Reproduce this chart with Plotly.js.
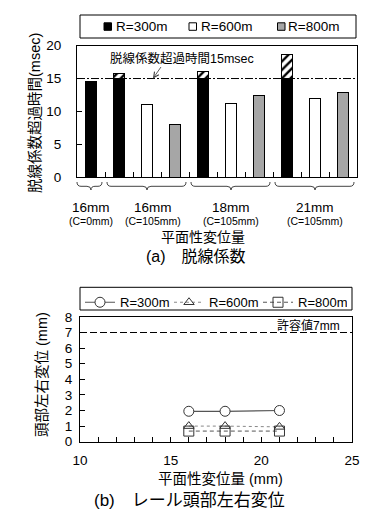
<!DOCTYPE html>
<html>
<head>
<meta charset="utf-8">
<script src="https://cdn.plot.ly/plotly-3.0.1.min.js"></script>
<style>html,body{margin:0;padding:0;background:#fff;}#chart{width:389px;height:522px;}</style>
</head>
<body>
<div id="chart"></div>
<script>
// ---- data ----
const groupGap = ['16mm', '16mm', '18mm', '21mm'];
const groupCant = ['(C=0mm)', '(C=105mm)', '(C=105mm)', '(C=105mm)'];
const seriesNames = ['R=300m', 'R=600m', 'R=800m'];
const r300 = [14.5, 15.7, 16.0, 18.6];
const r600 = [null, 11.1, 11.2, 11.9];
const r800 = [null, 8.0, 12.4, 12.9];
const limitTime = 15;
const limitTimeLabel = '脱線係数超過時間15msec';

const dispX = [16, 18, 21];
const disp300 = [1.95, 1.95, 2.0];
const disp600 = [1.0, 1.0, 0.95];
const disp800 = [0.68, 0.68, 0.68];
const limitDisp = 7;
const limitDispLabel = '許容値7mm';

const titleTopX = '平面性変位量';
const titleTopY = '脱線係数超過時間(msec)';
const titleBotX = '平面性変位量 (mm)';
const titleBotY = '頭部左右変位 (mm)';
const captionA = '(a)　脱線係数';
const captionB = '(b)　レール頭部左右変位';

// ---- layout helpers (pixels -> paper) ----
const W = 389, H = 522;
const px = x => x / W;
const py = y => 1 - y / H;
const A = {x0: 77, x1: 357, y0: 45.7, y1: 177};
const B = {x0: 80, x1: 352, y0: 316.9, y1: 441.7};
const FONT = 'Liberation Sans, Arial, Noto Sans CJK JP, sans-serif';

// categories built from data
const series = [r300, r600, r800];
const cats = [], catGroup = [];
groupGap.forEach((g, gi) => {
  series.forEach((s, si) => {
    if (s[gi] != null) { cats.push(gi + '-' + si); catGroup.push(gi); }
  });
});
const nCat = cats.length;
const catPx = i => A.x0 + (i + 0.5) / nCat * (A.x1 - A.x0);

function seriesXY(si) {
  const xs = [], ys = [];
  series[si].forEach((v, gi) => { if (v != null) { xs.push(gi + '-' + si); ys.push(v); } });
  return {xs, ys};
}
const s0 = seriesXY(0), s1 = seriesXY(1), s2 = seriesXY(2);
const barLine = {color: '#000', width: 1};

const traces = [
  {type: 'bar', name: seriesNames[0], x: s0.xs, y: s0.ys.map(v => Math.min(v, limitTime)),
   marker: {color: '#000', line: barLine}, showlegend: false, xaxis: 'x', yaxis: 'y', hoverinfo: 'skip'},
  {type: 'bar', name: seriesNames[0] + ' (>15)', x: s0.xs, y: s0.ys.map(v => v > limitTime ? v - limitTime : null),
   marker: {color: '#fff', line: barLine, pattern: {shape: '/', bgcolor: '#fff', fgcolor: '#000', size: 6, solidity: 0.4}},
   showlegend: false, xaxis: 'x', yaxis: 'y', hoverinfo: 'skip'},
  {type: 'bar', name: seriesNames[1], x: s1.xs, y: s1.ys,
   marker: {color: '#fff', line: barLine}, showlegend: false, xaxis: 'x', yaxis: 'y'},
  {type: 'bar', name: seriesNames[2], x: s2.xs, y: s2.ys,
   marker: {color: '#a6a6a6', line: barLine}, showlegend: false, xaxis: 'x', yaxis: 'y'},
  {type: 'scatter', mode: 'lines+markers', name: seriesNames[0], x: dispX, y: disp300,
   line: {color: '#555', width: 1.2},
   marker: {symbol: 'circle', size: 10, color: '#fff', line: {color: '#333', width: 1}},
   xaxis: 'x2', yaxis: 'y2'},
  {type: 'scatter', mode: 'lines+markers', name: seriesNames[1], x: dispX, y: disp600,
   line: {color: '#888', width: 1, dash: 'dot'},
   marker: {symbol: 'triangle-up-open', size: 9, color: '#333', line: {color: '#333', width: 1}},
   xaxis: 'x2', yaxis: 'y2'},
  {type: 'scatter', mode: 'lines+markers', name: seriesNames[2], x: dispX, y: disp800,
   line: {color: '#555', width: 1, dash: '4px,3px'},
   marker: {symbol: 'square-open', size: 10, color: '#333', line: {color: '#333', width: 1}},
   xaxis: 'x2', yaxis: 'y2'}
];

// ---- shapes ----
const shapes = [];
shapes.push({type: 'line', xref: 'x domain', x0: 0, x1: 1, yref: 'y', y0: limitTime, y1: limitTime,
  line: {color: '#000', width: 1, dash: '8px,2px,2px,2px'}});
shapes.push({type: 'line', xref: 'x2 domain', x0: 0, x1: 1, yref: 'y2', y0: limitDisp, y1: limitDisp,
  line: {color: '#000', width: 1, dash: '7px,3px'}});
// top legend box and swatches
shapes.push({type: 'rect', xref: 'paper', yref: 'paper', x0: px(80), x1: px(356), y0: py(38), y1: py(15),
  line: {color: '#000', width: 1}, fillcolor: 'rgba(0,0,0,0)'});
const swFill = ['#000', '#fff', '#a6a6a6'];
const swX = [104, 189, 277.5];
const txX = [115, 200, 287];
swX.forEach((x, i) => shapes.push({type: 'rect', xref: 'paper', yref: 'paper',
  x0: px(x), x1: px(x + 7.5), y0: py(30.3), y1: py(22.8), line: {color: '#000', width: 1}, fillcolor: swFill[i]}));
// bottom legend box
shapes.push({type: 'rect', xref: 'paper', yref: 'paper', x0: px(80), x1: px(352), y0: py(310), y1: py(287.3),
  line: {color: '#000', width: 1}, fillcolor: 'rgba(0,0,0,0)'});
// group braces
function bracePath(xl, xr, xc) {
  const yT = 182, yM = 186.3, yP = 190, r = 4;
  const P = (x, y) => px(x).toFixed(5) + ',' + py(y).toFixed(5);
  return 'M' + P(xl, yT) + ' Q' + P(xl, yM) + ' ' + P(xl + r, yM) + ' L' + P(xc - r, yM) +
    ' Q' + P(xc, yM) + ' ' + P(xc, yP) + ' Q' + P(xc, yM) + ' ' + P(xc + r, yM) +
    ' L' + P(xr - r, yM) + ' Q' + P(xr, yM) + ' ' + P(xr, yT);
}
const groupIdx = groupGap.map((g, gi) => catGroup.map((cg, i) => cg === gi ? i : -1).filter(i => i >= 0));
groupIdx.forEach((idx, gi) => {
  const lo = idx[0], hi = idx[idx.length - 1];
  const xl = catPx(lo - 0.5) + (gi === 0 ? 0 : 2);
  const xr = catPx(hi + 0.5) - 3;
  const xc = (catPx(lo) + catPx(hi)) / 2;
  shapes.push({type: 'path', xref: 'paper', yref: 'paper', path: bracePath(xl, xr, xc),
    line: {color: '#444', width: 1}});
});

// ---- annotations ----
const ann = [];
const txt = (x, y, text, size, extra) => Object.assign({xref: 'paper', yref: 'paper', x: px(x), y: py(y),
  xanchor: 'center', yanchor: 'middle', text: text, showarrow: false, borderpad: 0,
  font: {size: size, color: '#000'}}, extra || {});
seriesNames.forEach((n, i) => ann.push(txt(txX[i], 26.5, n, 13.5, {xanchor: 'left'})));
groupIdx.forEach((idx, gi) => {
  const xc = (catPx(idx[0]) + catPx(idx[idx.length - 1])) / 2 + (gi === 1 ? 6 : 0);
  ann.push(txt(xc, 207, groupGap[gi], 13.5));
  ann.push(txt(xc, 221, groupCant[gi], 10.5));
});
ann.push(txt(182, 58.5, limitTimeLabel, 12.5));
ann.push({xref: 'paper', yref: 'y', x: px(153), y: limitTime, text: '', showarrow: true,
  ax: 9, ay: -13, arrowhead: 5, arrowsize: 1.3, arrowwidth: 0.8, arrowcolor: '#333'});
ann.push({xref: 'x2 domain', yref: 'y2', x: (342 - B.x0) / (B.x1 - B.x0), y: limitDisp, xanchor: 'right', yanchor: 'bottom',
  yshift: -2, text: limitDispLabel, showarrow: false, font: {size: 12, color: '#000'}});
// axis titles
ann.push(txt(203, 237.5, titleTopX, 14));
ann.push(txt(35, 113, titleTopY, 14.5, {textangle: -90}));
ann.push(txt(220, 479, titleBotX, 14.5));
ann.push(txt(42, 375, titleBotY, 14.5, {textangle: -90}));
// captions
ann.push(txt(196, 257, captionA, 16));
ann.push(txt(189, 500, captionB, 17));

const axBase = {showline: true, mirror: true, linecolor: '#000', linewidth: 1, showgrid: false, zeroline: false,
  tickfont: {size: 13.5, color: '#000'}, tickcolor: '#000'};

const layout = {
  width: W, height: H, margin: {l: 0, r: 0, t: 0, b: 0}, paper_bgcolor: '#fff', plot_bgcolor: '#fff',
  font: {family: FONT, color: '#000'},
  barmode: 'stack', bargap: 0.6, showlegend: true,
  xaxis: Object.assign({}, axBase, {domain: [px(A.x0), px(A.x1)], anchor: 'y', type: 'category',
    categoryorder: 'array', categoryarray: cats, range: [-0.5, nCat - 0.5], tickson: 'boundaries',
    ticks: 'inside', ticklen: 5, showticklabels: false}),
  yaxis: Object.assign({}, axBase, {domain: [py(A.y1), py(A.y0)], anchor: 'x', range: [0, 20], dtick: 5,
    ticks: 'inside', ticklen: 5, ticklabelstandoff: 12}),
  xaxis2: Object.assign({}, axBase, {domain: [px(B.x0), px(B.x1)], anchor: 'y2', range: [10, 25], dtick: 5,
    ticks: 'inside', ticklen: 5, minor: {dtick: 1, ticks: 'inside', ticklen: 5, tickcolor: '#000'},
    ticklabelstandoff: 6}),
  yaxis2: Object.assign({}, axBase, {domain: [py(B.y1), py(B.y0)], anchor: 'x2', range: [0, 8], dtick: 1,
    ticks: 'inside', ticklen: 5, ticklabelstandoff: 4}),
  legend: {orientation: 'h', traceorder: 'normal', x: px(80), y: py(287.3), xanchor: 'left', yanchor: 'top',
    entrywidth: 44, bgcolor: 'rgba(0,0,0,0)', borderwidth: 0, font: {size: 13, color: '#000'}},
  shapes: shapes, annotations: ann
};

Plotly.newPlot('chart', traces, layout, {staticPlot: true, displayModeBar: false});
</script>
</body>
</html>
